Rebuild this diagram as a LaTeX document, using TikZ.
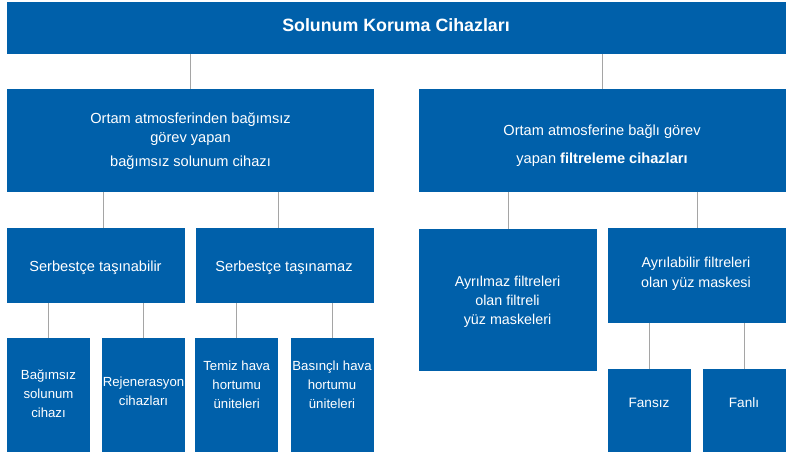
\documentclass[tikz,border=0pt]{standalone}
\usepackage{fontspec}
\setmainfont{Liberation Sans}
\definecolor{boxblue}{RGB}{0,96,170}
\definecolor{linegray}{RGB}{165,165,165}
\begin{document}
\begin{tikzpicture}[x=1pt,y=-1pt,
  box/.style={fill=boxblue, draw=none, inner sep=0pt, outer sep=0pt, anchor=north west},
  txt/.style={text=white, align=center, inner sep=0pt, anchor=base},
  mtxt/.style={text=white, align=center, inner sep=0pt},
  fbig/.style={font=\fontsize{14.6}{19}\selectfont},
  fmid/.style={font=\fontsize{14.3}{19.3}\selectfont},
  fsmall/.style={font=\fontsize{13.2}{19}\selectfont},
  conn/.style={draw=linegray, line width=0.9pt}]
\useasboundingbox (0,0) rectangle (789,454);
\fill[white] (0,0) rectangle (789,454);
% boxes
\node[box, minimum width=779pt, minimum height=52pt]  (top) at (7,2) {};
\node[box, minimum width=367pt, minimum height=103pt] (l2a) at (7,89) {};
\node[box, minimum width=367pt, minimum height=103pt] (l2b) at (419,89) {};
\node[box, minimum width=178pt, minimum height=75pt]  (l3a) at (7,228) {};
\node[box, minimum width=178pt, minimum height=75pt]  (l3b) at (196,228) {};
\node[box, minimum width=178pt, minimum height=142pt] (l3c) at (419,229) {};
\node[box, minimum width=178pt, minimum height=95pt]  (l3d) at (608,228) {};
\node[box, minimum width=83pt, minimum height=114pt]  (l4a) at (7,338) {};
\node[box, minimum width=83pt, minimum height=114pt]  (l4b) at (102,338) {};
\node[box, minimum width=83pt, minimum height=114pt]  (l4c) at (195,338) {};
\node[box, minimum width=83pt, minimum height=114pt]  (l4d) at (291,338) {};
\node[box, minimum width=83pt, minimum height=83pt]   (l4e) at (608,369) {};
\node[box, minimum width=83pt, minimum height=83pt]   (l4f) at (703,369) {};
% connectors
\draw[conn] (top.south -| l2a.north) -- (l2a.north);
\draw[conn] (top.south -| l2b.north) -- (l2b.north);
\draw[conn] ([xshift=7pt]l3a.north) -- ([xshift=7pt]l3a.north |- l2a.south);
\draw[conn] ([xshift=-7pt]l3b.north) -- ([xshift=-7pt]l3b.north |- l2a.south);
\draw[conn] (l3c.north) -- (l3c.north |- l2b.south);
\draw[conn] (l3d.north) -- (l3d.north |- l2b.south);
\draw[conn] (l4a.north) -- (l4a.north |- l3a.south);
\draw[conn] (l4b.north) -- (l4b.north |- l3a.south);
\draw[conn] (l4c.north) -- (l4c.north |- l3b.south);
\draw[conn] (l4d.north) -- (l4d.north |- l3b.south);
\draw[conn] (l4e.north) -- (l4e.north |- l3d.south);
\draw[conn] (l4f.north) -- (l4f.north |- l3d.south);
% texts
\node[txt, font=\fontsize{17.8}{22}\selectfont\bfseries] (ttop) at (396,32) {Solunum Koruma Cihazları};
\node[mtxt, fbig] (tl2a) at (190.5,141) {Ortam atmosferinden bağımsız\\görev yapan\\[5pt]bağımsız solunum cihazı};
\node[mtxt, fbig] (tl2b) at (602,145.3) {Ortam atmosferine bağlı görev\\[9pt]yapan \textbf{filtreleme cihazları}};
\node[txt, fbig] (tl3a) at (95.5,272) {Serbestçe taşınabilir};
\node[txt, fbig] (tl3b) at (284,272) {Serbestçe taşınamaz};
\node[mtxt, fmid] (tl3c) at (507.5,302) {Ayrılmaz filtreleri\\olan filtreli\\yüz maskeleri};
\node[mtxt, fmid] (tl3d) at (696,273.8) {Ayrılabilir filtreleri\\olan yüz maskesi};
\node[mtxt, fsmall] (tl4a) at (48.5,393.3) {Bağımsız\\solunum\\cihazı};
\node[mtxt, fsmall] (tl4b) at (143.5,391) {Rejenerasyon\\cihazları};
\node[mtxt, fsmall] (tl4c) at (236.7,384.8) {Temiz hava\\hortumu\\üniteleri};
\node[mtxt, fsmall] (tl4d) at (332,384.8) {Basınçlı hava\\hortumu\\üniteleri};
\node[txt, font=\fontsize{13.6}{19}\selectfont] (tl4e) at (649,407.3) {Fansız};
\node[txt, font=\fontsize{13.6}{19}\selectfont] (tl4f) at (744,407.3) {Fanlı};
\end{tikzpicture}
\end{document}
